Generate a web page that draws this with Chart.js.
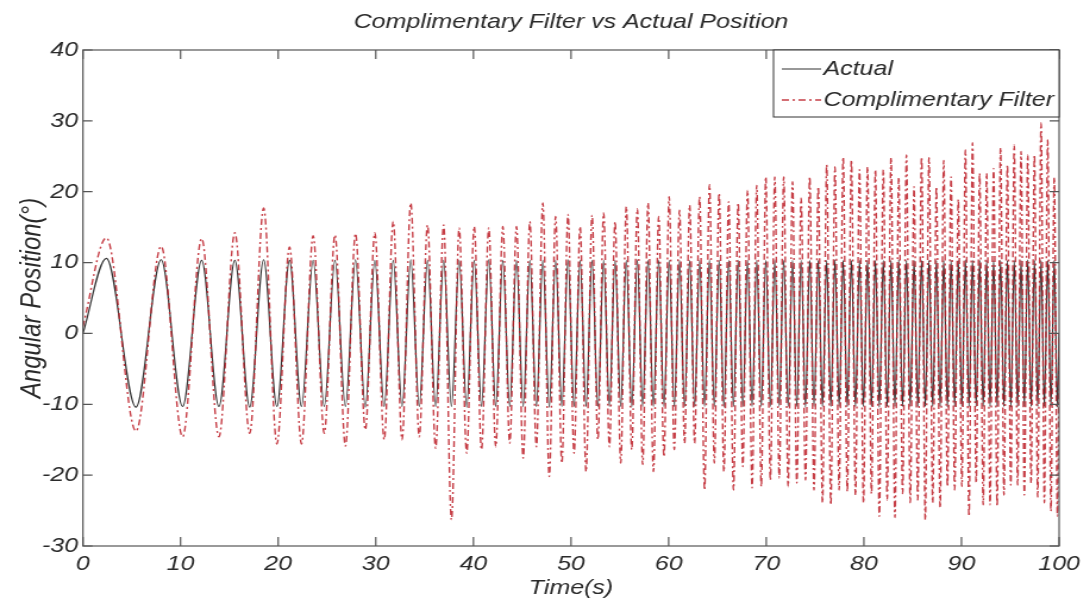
<!DOCTYPE html>
<html>
<head>
<meta charset="utf-8">
<script src="https://cdn.jsdelivr.net/npm/chart.js@4.4.1/dist/chart.umd.min.js"></script>
<style>
  html, body { margin: 0; padding: 0; background: #fff; overflow: hidden; }
  /* the original figure is stretched sideways, so stretch the canvas the same way */
  #wrap { width: 916px; height: 606px; transform: scaleX(1.19); transform-origin: 0 0; }
</style>
</head>
<body>
<div id="wrap"><canvas id="chart"></canvas></div>
<script>
// Times (s) of the maxima and minima of the oscillation
const peakTimes = [
  2.40, 8.01, 12.16, 15.56, 18.51, 21.16, 23.58, 25.82, 27.92, 29.90,
  31.78, 33.58, 35.30, 36.95, 38.54, 40.08, 41.57, 43.01, 44.41, 45.78,
  47.11, 48.42, 49.69, 50.93, 52.15, 53.34, 54.51, 55.66, 56.79, 57.89,
  58.98, 60.05, 61.11, 62.15, 63.17, 64.18, 65.17, 66.15, 67.12, 68.08,
  69.02, 69.95, 70.87, 71.79, 72.69, 73.57, 74.45, 75.33, 76.19, 77.04,
  77.88, 78.72, 79.55, 80.37, 81.18, 81.99, 82.78, 83.57, 84.36, 85.14,
  85.91, 86.67, 87.43, 88.18, 88.93, 89.67, 90.40, 91.13, 91.86, 92.58,
  93.29, 94.00, 94.70, 95.40, 96.10, 96.79, 97.47, 98.15, 98.83, 99.50
];
const troughTimes = [
  5.43, 10.21, 13.93, 17.08, 19.87, 22.39, 24.72, 26.89, 28.93, 30.86,
  32.69, 34.45, 36.13, 37.75, 39.31, 40.83, 42.29, 43.72, 45.10, 46.45,
  47.77, 49.06, 50.31, 51.54, 52.75, 53.93, 55.09, 56.22, 57.34, 58.44,
  59.52, 60.58, 61.63, 62.66, 63.68, 64.68, 65.66, 66.64, 67.60, 68.55,
  69.49, 70.42, 71.33, 72.24, 73.13, 74.02, 74.89, 75.76, 76.61, 77.46,
  78.30, 79.14, 79.96, 80.78, 81.58, 82.39, 83.18, 83.97, 84.75, 85.52,
  86.29, 87.05, 87.81, 88.56, 89.30, 90.04, 90.77, 91.50, 92.22, 92.93,
  93.65, 94.35, 95.05, 95.75, 96.44, 97.13, 97.81, 98.49, 99.16, 99.83
];

// Actual position (deg) at each peak / trough
const actualPeaks = [
  10.6, 10.4, 10.3, 10.3, 10.4, 10.3, 10.3, 10.3, 10.4, 10.3,
  10.3, 10.4, 10.3, 10.3, 10.3, 10.3, 10.4, 10.3, 10.3, 10.3,
  10.3, 10.3, 10.4, 10.3, 10.3, 10.3, 10.3, 10.3, 10.4, 10.3,
  10.3, 10.3, 10.3, 10.3, 10.3, 10.4, 10.3, 10.3, 10.3, 10.3,
  10.3, 10.3, 10.4, 10.3, 10.3, 10.3, 10.3, 10.3, 10.3, 10.4,
  10.3, 10.3, 10.3, 10.3, 10.3, 10.3, 10.3, 10.4, 10.3, 10.3,
  10.3, 10.3, 10.3, 10.3, 10.3, 10.3, 10.4, 10.3, 10.3, 10.3,
  10.3, 10.3, 10.3, 10.3, 10.3, 10.4, 10.3, 10.3, 10.3, 10.3
];
const actualTroughs = [
  -10.4, -10.3, -10.3, -10.4, -10.3, -10.3, -10.3, -10.3, -10.4, -10.3,
  -10.3, -10.3, -10.3, -10.3, -10.4, -10.3, -10.3, -10.3, -10.3, -10.3,
  -10.4, -10.3, -10.3, -10.3, -10.3, -10.3, -10.3, -10.4, -10.3, -10.3,
  -10.3, -10.3, -10.3, -10.3, -10.3, -10.3, -10.4, -10.3, -10.3, -10.3,
  -10.3, -10.3, -10.3, -10.3, -10.3, -10.4, -10.3, -10.3, -10.3, -10.3,
  -10.3, -10.3, -10.3, -10.3, -10.4, -10.3, -10.3, -10.3, -10.3, -10.3,
  -10.3, -10.3, -10.3, -10.4, -10.3, -10.3, -10.3, -10.3, -10.3, -10.3,
  -10.3, -10.3, -10.4, -10.3, -10.3, -10.3, -10.3, -10.3, -10.3, -10.4
];

// Complimentary filter estimate (deg) at each peak / trough
const filterPeaks = [
  13.5, 12.3, 13.4, 14.2, 17.7, 12.2, 13.8, 13.9, 14.1, 14.2,
  15.8, 18.4, 15.3, 15.3, 14.9, 15.1, 14.9, 15.1, 15.1, 15.8,
  18.4, 16.5, 16.8, 15.1, 16.7, 17.0, 15.8, 17.9, 17.6, 18.4,
  16.5, 19.3, 17.4, 18.1, 19.3, 21.0, 19.8, 18.6, 18.4, 20.2,
  20.9, 22.1, 22.1, 22.1, 21.4, 19.1, 22.1, 20.7, 23.8, 23.5,
  24.9, 24.5, 23.1, 23.5, 23.1, 23.1, 24.8, 22.0, 25.2, 20.7,
  24.9, 24.8, 20.7, 24.4, 22.1, 18.9, 25.9, 26.9, 22.6, 22.6,
  23.3, 26.2, 23.8, 26.6, 25.7, 25.2, 25.2, 29.7, 27.3, 22.0
];
const filterTroughs = [
  -13.8, -14.6, -14.6, -14.1, -15.6, -15.6, -14.1, -15.9, -13.6, -15.0,
  -15.0, -14.6, -16.2, -26.3, -16.9, -16.4, -16.0, -15.5, -17.6, -16.0,
  -20.2, -18.3, -16.9, -19.5, -15.0, -16.0, -18.3, -16.4, -18.5, -19.5,
  -17.4, -16.4, -15.5, -15.5, -22.1, -18.3, -19.5, -22.1, -18.8, -21.8,
  -21.6, -20.7, -20.4, -21.6, -21.1, -20.7, -22.1, -23.9, -24.2, -22.1,
  -22.3, -22.8, -23.9, -22.6, -25.8, -23.5, -26.0, -22.6, -23.9, -23.5,
  -26.3, -23.9, -24.6, -21.6, -22.1, -21.6, -25.8, -21.1, -24.2, -24.2,
  -24.4, -22.8, -21.4, -21.4, -22.8, -21.1, -23.1, -23.9, -25.1, -25.8
];

const startEnd = { t: [0, 100], actual: [0, 0], filter: [1, 0] };

const xTickValues = [0, 10, 20, 30, 40, 50, 60, 70, 80, 90, 100];
const yTickValues = [-30, -20, -10, 0, 10, 20, 30, 40];

function buildSeries(peaks, troughs, first, last) {
  const pts = [{ x: startEnd.t[0], y: first }];
  for (let i = 0; i < peakTimes.length; i++) {
    pts.push({ x: peakTimes[i], y: peaks[i] });
    pts.push({ x: troughTimes[i], y: troughs[i] });
  }
  pts.push({ x: startEnd.t[1], y: last });
  return pts;
}

const FONT = "'Liberation Sans', Arial, sans-serif";
const TEXT = "#2a2a2a";

// frame, inward tick marks and the boxed legend, MATLAB style
const framePlugin = {
  id: "frame",
  afterDatasetsDraw(chart) {
    const { ctx, chartArea: ca, scales } = chart;
    ctx.save();
    ctx.strokeStyle = "#555";
    ctx.lineWidth = 1.2;
    ctx.setLineDash([]);
    ctx.strokeRect(ca.left, ca.top, ca.width, ca.height);
    ctx.beginPath();
    xTickValues.forEach(v => {
      const px = scales.x.getPixelForValue(v);
      ctx.moveTo(px, ca.bottom); ctx.lineTo(px, ca.bottom - 9);
      ctx.moveTo(px, ca.top); ctx.lineTo(px, ca.top + 9);
    });
    yTickValues.forEach(v => {
      const py = scales.y.getPixelForValue(v);
      ctx.moveTo(ca.left, py); ctx.lineTo(ca.left + 8, py);
      ctx.moveTo(ca.right, py); ctx.lineTo(ca.right - 8, py);
    });
    ctx.stroke();

    // legend box
    const w = 240, h = 67;
    const lx = ca.right - w, ly = ca.top;
    ctx.fillStyle = "#fff";
    ctx.fillRect(lx, ly, w, h);
    ctx.strokeStyle = "#333";
    ctx.lineWidth = 1;
    ctx.strokeRect(lx, ly, w, h);
    const rows = [19, 50];
    ctx.font = "italic 21px " + FONT;
    ctx.textBaseline = "middle";
    chart.data.datasets.slice().sort((a, b) => a.legendRank - b.legendRank).forEach((ds, i) => {
      const y = ly + rows[i];
      ctx.strokeStyle = ds.borderColor;
      ctx.lineWidth = ds.borderWidth;
      ctx.setLineDash(ds.borderDash || []);
      ctx.beginPath();
      ctx.moveTo(lx + 7, y);
      ctx.lineTo(lx + 40, y);
      ctx.stroke();
      ctx.setLineDash([]);
      ctx.fillStyle = TEXT;
      ctx.fillText(ds.label, lx + 42, y);
    });
    ctx.restore();
  }
};

const ctx = document.getElementById("chart").getContext("2d");
new Chart(ctx, {
  type: "line",
  data: {
    datasets: [
      {
        label: "Complimentary Filter",
        legendRank: 2,
        data: buildSeries(filterPeaks, filterTroughs, startEnd.filter[0], startEnd.filter[1]),
        borderColor: "rgba(188,28,38,0.85)",
        borderWidth: 1.4,
        borderDash: [6, 3, 2, 3],
        pointRadius: 0,
        cubicInterpolationMode: "monotone",
        order: 0
      },
      {
        label: "Actual",
        legendRank: 1,
        data: buildSeries(actualPeaks, actualTroughs, startEnd.actual[0], startEnd.actual[1]),
        borderColor: "#333",
        borderWidth: 1.2,
        pointRadius: 0,
        cubicInterpolationMode: "monotone",
        order: 1
      }
    ]
  },
  options: {
    responsive: true,
    maintainAspectRatio: false,
    animation: false,
    layout: { padding: { left: 13, right: 26, top: 0, bottom: 0 } },
    plugins: {
      legend: { display: false },
      tooltip: { enabled: false },
      title: {
        display: true,
        text: "Complimentary Filter vs Actual Position",
        fullSize: false,
        color: TEXT,
        font: { family: FONT, size: 21, style: "italic", weight: "normal" },
        padding: { top: 9.4, bottom: 15.4 }
      }
    },
    scales: {
      x: {
        type: "linear",
        min: 0,
        max: 100,
        afterBuildTicks: s => { s.ticks = xTickValues.map(v => ({ value: v })); },
        afterFit: s => { s.height = 60; },
        grid: { drawOnChartArea: false, drawTicks: false },
        border: { display: false },
        ticks: { color: TEXT, padding: 6, maxRotation: 0, font: { family: FONT, size: 21, style: "italic" } },
        title: {
          display: true,
          text: "Time(s)",
          color: TEXT,
          font: { family: FONT, size: 21, style: "italic" },
          padding: { top: 0, bottom: 5.4 }
        }
      },
      y: {
        min: -30,
        max: 40,
        afterBuildTicks: s => { s.ticks = yTickValues.map(v => ({ value: v })); },
        afterFit: s => { s.width = 56.7; },
        grid: { drawOnChartArea: false, drawTicks: false },
        border: { display: false },
        ticks: { color: TEXT, padding: 4, font: { family: FONT, size: 21, style: "italic" } },
        title: {
          display: true,
          text: "Angular Position(°)",
          color: TEXT,
          font: { family: FONT, size: 24, style: "italic" },
          padding: { top: 0, bottom: 0 }
        }
      }
    }
  },
  plugins: [framePlugin]
});
</script>
</body>
</html>
